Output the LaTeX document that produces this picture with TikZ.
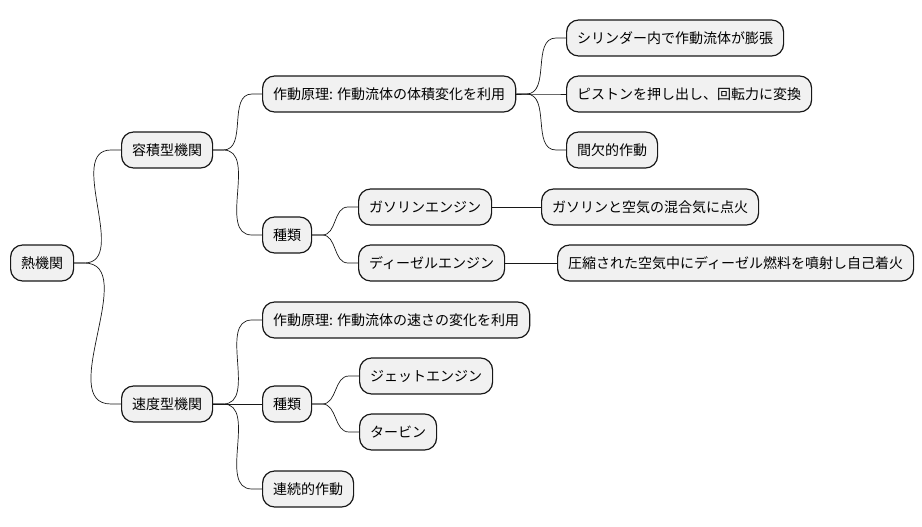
\documentclass[tikz,border=0pt]{standalone}
\usepackage{fontspec}
\setmainfont{Noto Sans CJK JP}
\usepackage{xcolor}
\definecolor{BoxFill}{RGB}{241,241,241}
\definecolor{BoxLine}{RGB}{24,24,24}
\usepackage{tikz}

\begin{document}
\begin{tikzpicture}[x=1pt, y=-1pt,
		topic/.style={draw=BoxLine, fill=BoxFill, line width=1.2pt, rounded corners=12pt, anchor=west, minimum height=36pt, inner xsep=10.5pt, font=\fontsize{14}{16}\selectfont},
		branch/.style={draw=BoxLine, line width=0.7pt}]
		
		\useasboundingbox (0,0) rectangle (922,527);
		
		% Root
		\node[topic] (heat) 	at (10,263) {熱機関};
		
		% Level 1
		\node[topic] (vol) 		at (121,150) {容積型機関};
		\node[topic] (vel) 		at (121,404) {速度型機関};
		
		% Level 2
		\node[topic] (vprin) 	at (262,94) {作動原理: 作動流体の体積変化を利用};
		\node[topic] (vkind) 	at (262,235) {種類};
		\node[topic] (sprin) 	at (262,320) {作動原理: 作動流体の速さの変化を利用};
		\node[topic] (skind) 	at (262,404) {種類};
		\node[topic] (cont) 	at (262,489) {連続的作動};
		
		% Level 3
		\node[topic] (cyl) 		at (566,38) {シリンダー内で作動流体が膨張};
		\node[topic] (pis) 		at (566,94) {ピストンを押し出し、回転力に変換};
		\node[topic] (inter) 	at (566,150) {間欠的作動};
		\node[topic] (gas) 		at (358,207) {ガソリンエンジン};
		\node[topic] (dsl) 		at (358,263) {ディーゼルエンジン};
		\node[topic] (jet) 		at (359,376) {ジェットエンジン};
		\node[topic] (turb) 	at (359,432) {タービン};
		
		% Level 4
		\node[topic] (gasig) 	at (541,207) {ガソリンと空気の混合気に点火};
		\node[topic] (dslig) 	at (557,263) {圧縮された空気中にディーゼル燃料を噴射し自己着火};
		
		% Branches
		\draw[branch] (heat.east) -- ++(10,0) to[out=0, in=180] ([xshift=-10pt]vol.west) -- (vol.west);
		\draw[branch] (heat.east) -- ++(10,0) to[out=0, in=180] ([xshift=-10pt]vel.west) -- (vel.west);
		
		\draw[branch] (vol.east) -- ++(10,0) to[out=0, in=180] ([xshift=-10pt]vprin.west) -- (vprin.west);
		\draw[branch] (vol.east) -- ++(10,0) to[out=0, in=180] ([xshift=-10pt]vkind.west) -- (vkind.west);
		
		\draw[branch] (vprin.east) -- ++(10,0) to[out=0, in=180] ([xshift=-10pt]cyl.west) -- (cyl.west);
		\draw[branch] (vprin.east) -- ++(10,0) to[out=0, in=180] ([xshift=-10pt]pis.west) -- (pis.west);
		\draw[branch] (vprin.east) -- ++(10,0) to[out=0, in=180] ([xshift=-10pt]inter.west) -- (inter.west);
		
		\draw[branch] (vkind.east) -- ++(10,0) to[out=0, in=180] ([xshift=-10pt]gas.west) -- (gas.west);
		\draw[branch] (vkind.east) -- ++(10,0) to[out=0, in=180] ([xshift=-10pt]dsl.west) -- (dsl.west);
		
		\draw[branch] (gas.east) -- (gasig.west);
		\draw[branch] (dsl.east) -- (dslig.west);
		
		\draw[branch] (vel.east) -- ++(10,0) to[out=0, in=180] ([xshift=-10pt]sprin.west) -- (sprin.west);
		\draw[branch] (vel.east) -- (skind.west);
		\draw[branch] (vel.east) -- ++(10,0) to[out=0, in=180] ([xshift=-10pt]cont.west) -- (cont.west);
		
		\draw[branch] (skind.east) -- ++(10,0) to[out=0, in=180] ([xshift=-10pt]jet.west) -- (jet.west);
		\draw[branch] (skind.east) -- ++(10,0) to[out=0, in=180] ([xshift=-10pt]turb.west) -- (turb.west);
		
	\end{tikzpicture}
\end{document}
